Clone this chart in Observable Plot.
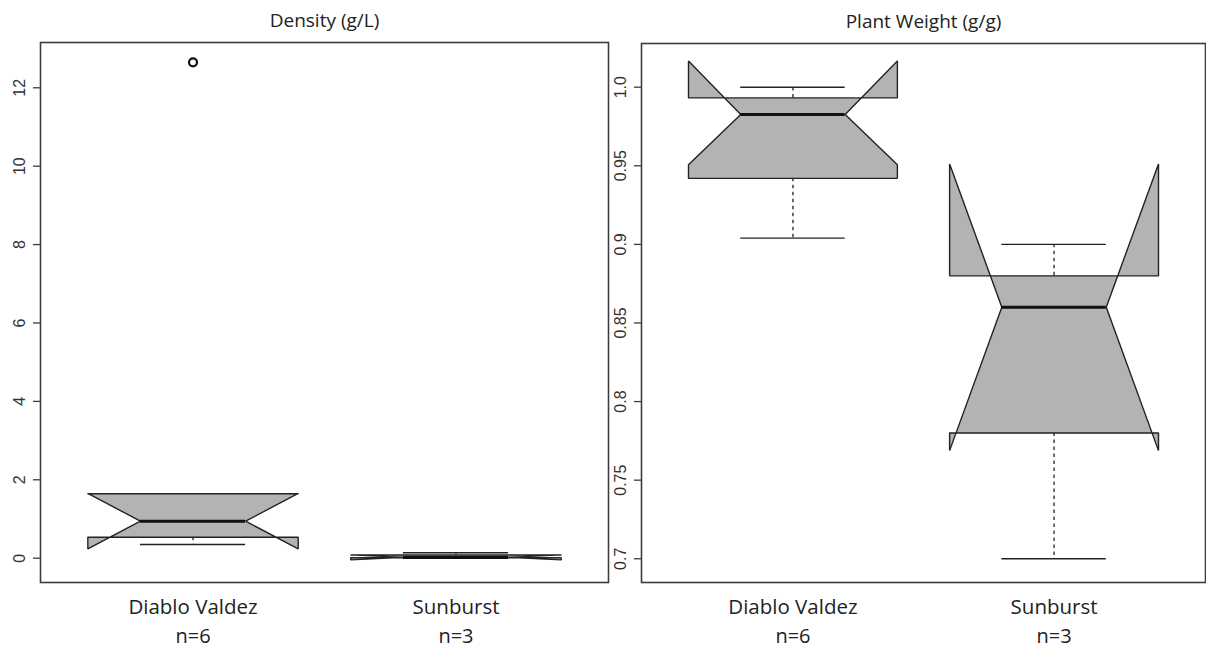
<!DOCTYPE html>
<html><head><meta charset="utf-8">
<script src="https://cdn.jsdelivr.net/npm/d3@7"></script>
<script src="https://cdn.jsdelivr.net/npm/@observablehq/plot@0.6"></script>
<style>
html,body{margin:0;padding:0;background:#fff;}
#wrap{position:relative;width:1206px;height:649px;overflow:hidden;background:#fff;}
#wrap svg{position:absolute;top:0;}
</style></head><body><div id="wrap"></div>
<script>
// ---- data ----
const groups = ["Diablo Valdez", "Sunburst"];
const counts = ["n=6", "n=3"];

// Density (g/L)
const densityWhiskerLo = [0.35, 0.00];
const densityQ1        = [0.536, 0.01];
const densityMedian    = [0.944, 0.02];
const densityQ3        = [1.643, 0.08];
const densityWhiskerHi = [1.643, 0.14];
const densityNotchLo   = [0.235, -0.044];
const densityNotchHi   = [1.653, 0.084];
const densityOutliers  = [[12.65], []];
const densityTicks     = [0, 2, 4, 6, 8, 10, 12];
const densityTickLabels = ["0", "2", "4", "6", "8", "10", "12"];

// Plant Weight (g/g)
const weightWhiskerLo = [0.904, 0.70];
const weightQ1        = [0.942, 0.78];
const weightMedian    = [0.9826, 0.86];
const weightQ3        = [0.9932, 0.88];
const weightWhiskerHi = [1.0, 0.90];
const weightNotchLo   = [0.9506, 0.7688];
const weightNotchHi   = [1.0166, 0.9512];
const weightOutliers  = [[], []];
const weightTicks     = [0.7, 0.75, 0.8, 0.85, 0.9, 0.95, 1.0];
const weightTickLabels = ["0.7", "0.75", "0.8", "0.85", "0.9", "0.95", "1.0"];

const FILL = "#b3b3b3", INK = "#222", FRAME = "#3c3c3c";
const BOXW = 0.4, NOTCHF = 0.5, STAPLE = 0.2;
const LABEL_FONT = "Open Sans, sans-serif";

function panel({title, wLo, q1, med, q3, wHi, nLo, nHi, outliers, ticks, tickLabels, yDomain, width, marginLeft, marginRight, marginTop}) {
  const pos = groups.map((_, i) => i + 1);
  const poly = [];
  groups.forEach((g, i) => {
    const c = pos[i];
    const pts = [
      [c - BOXW, q1[i]], [c + BOXW, q1[i]], [c + BOXW, nLo[i]], [c + NOTCHF * BOXW, med[i]],
      [c + BOXW, nHi[i]], [c + BOXW, q3[i]], [c - BOXW, q3[i]], [c - BOXW, nHi[i]],
      [c - NOTCHF * BOXW, med[i]], [c - BOXW, nLo[i]], [c - BOXW, q1[i]]
    ];
    pts.forEach(([x, y]) => poly.push({g, x, y}));
  });
  const rows = groups.map((g, i) => ({g, c: pos[i], wLo: wLo[i], q1: q1[i], med: med[i], q3: q3[i], wHi: wHi[i]}));
  const outRows = groups.flatMap((g, i) => outliers[i].map(v => ({c: pos[i], v})));
  const tickRows = ticks.map((t, i) => ({t, label: tickLabels[i]}));
  return Plot.plot({
    width, height: 649, marginLeft, marginRight, marginTop, marginBottom: 67,
    style: {background: "transparent", overflow: "visible"},
    x: {domain: [0.42, 2.58], axis: null},
    y: {domain: yDomain, axis: null},
    marks: [
      Plot.ruleX(rows, {x: "c", y1: "q1", y2: "wLo", stroke: INK, strokeWidth: 1.3, strokeDasharray: "3.5,3.5"}),
      Plot.ruleX(rows, {x: "c", y1: "q3", y2: "wHi", stroke: INK, strokeWidth: 1.3, strokeDasharray: "3.5,3.5"}),
      Plot.ruleY(rows, {y: "wLo", x1: d => d.c - STAPLE, x2: d => d.c + STAPLE, stroke: INK, strokeWidth: 1.4}),
      Plot.ruleY(rows, {y: "wHi", x1: d => d.c - STAPLE, x2: d => d.c + STAPLE, stroke: INK, strokeWidth: 1.4}),
      Plot.line(poly, {x: "x", y: "y", z: "g", fill: FILL, stroke: INK, strokeWidth: 1.4, strokeLinejoin: "miter"}),
      Plot.ruleY(rows, {y: "med", x1: d => d.c - NOTCHF * BOXW, x2: d => d.c + NOTCHF * BOXW, stroke: "#111", strokeWidth: 3}),
      Plot.dot(outRows, {x: "c", y: "v", r: 4, stroke: "#111", strokeWidth: 2.2, fill: "none"}),
      Plot.frame({stroke: FRAME, strokeWidth: 1.6}),
      Plot.axisY(ticks, {anchor: "left", tickSize: 7, stroke: FRAME, strokeWidth: 1.3, fill: "none", label: null}),
      Plot.text(tickRows, {y: "t", text: "label", frameAnchor: "left", dx: -16, rotate: -90, textAnchor: "middle", lineAnchor: "bottom", fontSize: 16, fontFamily: "Liberation Sans, Arial, sans-serif", fill: "#333"}),
      Plot.text(groups, {x: pos, text: d => d, frameAnchor: "bottom", dy: 25, lineAnchor: "middle", fontSize: 20.5, fontFamily: LABEL_FONT, fill: "#222"}),
      Plot.text(counts, {x: pos, text: d => d, frameAnchor: "bottom", dy: 54, lineAnchor: "middle", fontSize: 20, fontFamily: LABEL_FONT, fill: "#222"}),
      Plot.text([title], {text: d => d, frameAnchor: "top", dy: -22, lineAnchor: "middle", fontSize: 19, fontFamily: LABEL_FONT, fill: "#222"})
    ]
  });
}

const left = panel({
  title: "Density (g/L)",
  wLo: densityWhiskerLo, q1: densityQ1, med: densityMedian, q3: densityQ3, wHi: densityWhiskerHi,
  nLo: densityNotchLo, nHi: densityNotchHi, outliers: densityOutliers,
  ticks: densityTicks, tickLabels: densityTickLabels,
  yDomain: [-0.62, 13.155], width: 610, marginLeft: 40, marginRight: 2, marginTop: 42
});
const right = panel({
  title: "Plant Weight (g/g)",
  wLo: weightWhiskerLo, q1: weightQ1, med: weightMedian, q3: weightQ3, wHi: weightWhiskerHi,
  nLo: weightNotchLo, nHi: weightNotchHi, outliers: weightOutliers,
  ticks: weightTicks, tickLabels: weightTickLabels,
  yDomain: [0.6849, 1.0278], width: 596, marginLeft: 31, marginRight: 1, marginTop: 43
});
left.style.left = "0px";
right.style.left = "610px";
const wrap = document.getElementById("wrap");
wrap.appendChild(left);
wrap.appendChild(right);
</script></body></html>
